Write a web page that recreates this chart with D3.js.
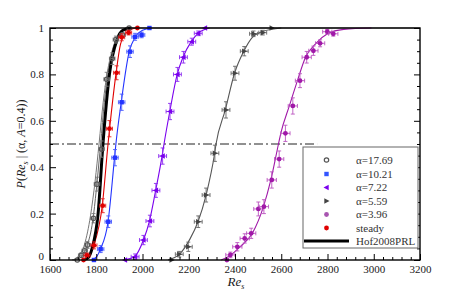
<!DOCTYPE html>
<html lang="en">
<head>
<meta charset="utf-8">
<script src="https://d3js.org/d3.v7.min.js"></script>
<style>
  body { margin: 0; background: #fff; }
  svg text { font-family: "Liberation Serif", "Times New Roman", serif; fill: #1a1a1a; }
</style>
</head>
<body>
<div id="chart"></div>
<script>
// ---- data: [Re_s, P] ----
const xTicks = [1600, 1800, 2000, 2200, 2400, 2600, 2800, 3000, 3200];
const yTicks = [0, 0.2, 0.4, 0.6, 0.8, 1];

// measured points
const a1769Pts = [[1718,0],[1735,0.02],[1750,0.04],[1762,0.065],[1788,0.18],[1803,0.327],[1823,0.478],[1845,0.779],[1869,0.868],[1885,0.95],[1914,0.97],[1942,1]];
const a1769Err = [0,0.01,0.012,0.015,0.02,0.03,0.035,0.03,0.025,0.015,0.01,0];
const a1021Pts = [[1790,0],[1819,0.047],[1852,0.165],[1881,0.441],[1910,0.68],[1946,0.898],[1968,0.962],[1996,0.97],[2030,1]];
const a1021Err = [0,0.015,0.025,0.035,0.035,0.025,0.015,0.012,0];
const a722Pts = [[1924,0],[1968,0.014],[2004,0.086],[2032,0.168],[2058,0.30],[2087,0.448],[2119,0.64],[2151,0.80],[2177,0.874],[2213,0.941],[2241,0.977],[2270,1]];
const a722Err = [0,0.012,0.02,0.025,0.03,0.035,0.035,0.03,0.025,0.015,0.01,0];
const a559Pts = [[2126,0],[2159,0.025],[2198,0.057],[2241,0.165],[2275,0.28],[2313,0.46],[2361,0.647],[2400,0.805],[2440,0.90],[2480,0.975],[2520,0.98],[2559,1]];
const a559Err = [0,0.012,0.02,0.025,0.03,0.035,0.035,0.03,0.02,0.012,0.01,0];
const a396Pts = [[2365,0],[2380,0.022],[2410,0.057],[2442,0.093],[2470,0.115],[2501,0.22],[2525,0.23],[2559,0.345],[2591,0.435],[2618,0.546],[2650,0.664],[2681,0.773],[2710,0.874],[2739,0.902],[2768,0.934],[2799,0.984],[2825,0.975]];
const a396Err = [0,0.012,0.018,0.02,0.022,0.03,0.03,0.035,0.035,0.035,0.035,0.03,0.025,0.02,0.015,0.01,0.01];
const steadyPts = [[1745,0],[1760,0.02],[1790,0.063],[1828,0.234],[1857,0.566],[1888,0.807],[1910,0.96],[1940,0.98],[1978,1]];
const steadyErr = [0,0.01,0.015,0.03,0.035,0.03,0.015,0.01,0];

// fitted curves (traced)
const a1769Fit = [[1700,0],[1730,0.01],[1760,0.06],[1785,0.17],[1800,0.3],[1819,0.5],[1835,0.68],[1850,0.8],[1870,0.9],[1890,0.96],[1920,0.99],[1960,1],[3200,1]];
const a1769Fit2 = [[1695,0],[1722,0.015],[1750,0.07],[1775,0.19],[1795,0.34],[1812,0.5],[1830,0.68],[1848,0.81],[1868,0.9],[1890,0.96],[1920,0.99],[1960,1]];
const a1021Fit = [[1780,0],[1800,0.012],[1818,0.047],[1851,0.165],[1879,0.44],[1885,0.5],[1908,0.68],[1943,0.9],[1968,0.96],[2000,0.99],[2040,1]];
const a722Fit = [[1920,0],[1965,0.014],[2004,0.086],[2030,0.168],[2057,0.3],[2085,0.45],[2093,0.5],[2118,0.64],[2150,0.8],[2175,0.874],[2210,0.94],[2240,0.977],[2290,1]];
const a559Fit = [[2110,0],[2160,0.025],[2205,0.09],[2240,0.165],[2275,0.28],[2312,0.46],[2318,0.5],[2358,0.647],[2398,0.805],[2438,0.9],[2475,0.96],[2520,0.985],[2600,1]];
const a396Fit = [[2340,0],[2380,0.02],[2420,0.055],[2475,0.115],[2523,0.23],[2555,0.345],[2588,0.5],[2598,0.546],[2635,0.664],[2670,0.773],[2705,0.874],[2750,0.934],[2800,0.975],[2870,0.994],[2990,1]];
const steadyFit = [[1740,0],[1770,0.02],[1790,0.065],[1826,0.234],[1851,0.5],[1885,0.8],[1905,0.93],[1930,0.98],[1970,1]];
const hofFit = [[1740,0],[1765,0.01],[1782,0.05],[1808,0.2],[1829,0.5],[1857,0.8],[1890,0.95],[1915,0.99],[1950,1]];

const refLine = [[1600,0.5],[2755,0.5]];

const legendLabels = ["\u03b1=17.69", "\u03b1=10.21", "\u03b1=7.22", "\u03b1=5.59", "\u03b1=3.96", "steady", "Hof2008PRL"];

// ---- layout ----
const W = 449, H = 298;
const mLeft = 50, mRight = 420, mTop = 28, mBottom = 260;
const serif = "'Liberation Serif', 'Times New Roman', serif";

const svg = d3.select("#chart").append("svg")
  .attr("width", W).attr("height", H);

const x = d3.scaleLinear().domain([1600, 3200]).range([mLeft, mRight]);
const y = d3.scaleLinear().domain([0, 1]).range([mBottom, mTop]);

const line = d3.line().x(d => x(d[0])).y(d => y(d[1])).curve(d3.curveMonotoneX);

const series = [
  { pts: a1769Pts, err: a1769Err, ex: 12, color: "#555", ebColor: "#777", shape: "ocircle" },
  { pts: a1021Pts, err: a1021Err, ex: 14, color: "#2233ff", ebColor: "#4a5cff", shape: "square" },
  { pts: a722Pts, err: a722Err, ex: 17, color: "#7a00ee", ebColor: "#8c2cf0", shape: "ltri" },
  { pts: a559Pts, err: a559Err, ex: 17, color: "#444", ebColor: "#666", shape: "rtri" },
  { pts: a396Pts, err: a396Err, ex: 20, color: "#a018a8", ebColor: "#bb55c0", shape: "circle" },
  { pts: steadyPts, err: steadyErr, ex: 13, color: "#e00000", ebColor: "#e52020", shape: "circle" }
];

// fits
const fits = [
  { d: a1769Fit, c: "#666", w: 1 },
  { d: a1769Fit2, c: "#777", w: 1 },
  { d: a1021Fit, c: "#2233ff", w: 1.1 },
  { d: a722Fit, c: "#7a00ee", w: 1.1 },
  { d: a559Fit, c: "#555", w: 1.1 },
  { d: a396Fit, c: "#a018a8", w: 1.1 },
  { d: steadyFit, c: "#e00000", w: 1.1 },
  { d: hofFit, c: "#000", w: 3 }
];

const plot = svg.append("g");
plot.append("defs").append("clipPath").attr("id", "clip")
  .append("rect").attr("x", mLeft).attr("y", mTop - 2).attr("width", mRight - mLeft).attr("height", mBottom - mTop + 3);

plot.append("path").datum(refLine)
  .attr("d", d3.line().x(d => x(d[0])).y(d => y(d[1])))
  .attr("stroke", "#222").attr("stroke-width", 1)
  .attr("stroke-dasharray", "9,3,2,3").attr("fill", "none");

const lines = plot.append("g").attr("clip-path", "url(#clip)");
fits.forEach(f => {
  lines.append("path").datum(f.d).attr("d", line)
    .attr("fill", "none").attr("stroke", f.c).attr("stroke-width", f.w);
});

function marker(g, shape, color, cx, cy) {
  if (shape === "ocircle") {
    g.append("circle").attr("cx", cx).attr("cy", cy).attr("r", 2.2)
      .attr("fill", "none").attr("stroke", color).attr("stroke-width", 1.2);
  } else if (shape === "circle") {
    g.append("circle").attr("cx", cx).attr("cy", cy).attr("r", 2.4).attr("fill", color);
  } else if (shape === "square") {
    g.append("rect").attr("x", cx - 2.2).attr("y", cy - 2.2).attr("width", 4.4).attr("height", 4.4).attr("fill", color);
  } else if (shape === "ltri") {
    g.append("path").attr("d", `M${cx - 3},${cy} L${cx + 2.2},${cy - 2.8} L${cx + 2.2},${cy + 2.8} Z`).attr("fill", color);
  } else if (shape === "rtri") {
    g.append("path").attr("d", `M${cx + 3},${cy} L${cx - 2.2},${cy - 2.8} L${cx - 2.2},${cy + 2.8} Z`).attr("fill", color);
  }
}

const marks = plot.append("g");
series.forEach(s => {
  s.pts.forEach((p, i) => {
    const cx = x(p[0]), cy = y(p[1]);
    const e = s.err[i];
    if (e > 0) {
      const g = marks.append("g").attr("stroke", s.ebColor).attr("stroke-width", 0.9).attr("fill", "none");
      const x0 = x(p[0] - s.ex), x1 = x(p[0] + s.ex);
      const y0 = y(p[1] - e), y1 = y(Math.min(1, p[1] + e));
      g.append("line").attr("x1", x0).attr("x2", x1).attr("y1", cy).attr("y2", cy);
      g.append("line").attr("x1", x0).attr("x2", x0).attr("y1", cy - 2).attr("y2", cy + 2);
      g.append("line").attr("x1", x1).attr("x2", x1).attr("y1", cy - 2).attr("y2", cy + 2);
      g.append("line").attr("x1", cx).attr("x2", cx).attr("y1", y0).attr("y2", y1);
      g.append("line").attr("x1", cx - 2).attr("x2", cx + 2).attr("y1", y0).attr("y2", y0);
      g.append("line").attr("x1", cx - 2).attr("x2", cx + 2).attr("y1", y1).attr("y2", y1);
    }
    marker(marks, s.shape, s.color, cx, cy);
  });
});

// ---- axes ----
const xMinor = d3.range(1600, 3201, 40).filter(v => v % 200 !== 0);
const yMinor = d3.range(0, 1.001, 0.05).filter(v => Math.abs(v * 5 - Math.round(v * 5)) > 1e-6);

function styleAxis(g) {
  g.attr("font-family", serif);
  g.select(".domain").remove();
  g.selectAll(".tick line").attr("stroke", "#000").attr("stroke-width", 1);
  g.selectAll(".tick text").attr("font-size", 11).attr("fill", "#1a1a1a");
}

svg.append("g").attr("transform", `translate(0,${mBottom})`)
  .call(d3.axisBottom(x).tickValues(xTicks).tickSize(-6).tickPadding(5).tickFormat(d3.format("d")))
  .call(styleAxis);
svg.append("g").attr("transform", `translate(0,${mBottom})`)
  .call(d3.axisBottom(x).tickValues(xMinor).tickSize(-3).tickFormat(""))
  .call(styleAxis);

const yAxisG = svg.append("g").attr("transform", `translate(${mLeft},0)`)
  .call(d3.axisLeft(y).tickValues(yTicks).tickSize(-6).tickPadding(6).tickFormat(d => d === 0 || d === 1 ? d : d.toFixed(1)))
  .call(styleAxis);
// nudge the "0" label up so it clears "1600"
yAxisG.selectAll(".tick text").filter(d => d === 0).attr("dy", "-0.08em");
svg.append("g").attr("transform", `translate(${mLeft},0)`)
  .call(d3.axisLeft(y).tickValues(yMinor).tickSize(-3).tickFormat(""))
  .call(styleAxis);

svg.append("g").attr("transform", `translate(${mRight},0)`)
  .call(d3.axisRight(y).tickValues(yTicks).tickSize(-6).tickFormat(""))
  .call(styleAxis);
svg.append("g").attr("transform", `translate(${mRight},0)`)
  .call(d3.axisRight(y).tickValues(yMinor).tickSize(-3).tickFormat(""))
  .call(styleAxis);

svg.append("rect").attr("x", mLeft).attr("y", mTop).attr("width", mRight - mLeft).attr("height", mBottom - mTop)
  .attr("fill", "none").attr("stroke", "#000").attr("stroke-width", 1.4);

// axis titles
const xl = svg.append("text").attr("x", 236).attr("y", 286).attr("text-anchor", "middle")
  .attr("font-size", 13).attr("font-family", serif);
xl.append("tspan").attr("font-style", "italic").text("Re");
xl.append("tspan").attr("font-style", "italic").attr("font-size", 8).attr("dy", 3).text("s");

const yl = svg.append("text").attr("transform", "translate(25,144) rotate(-90)")
  .attr("text-anchor", "middle").attr("font-size", 12).attr("font-family", serif);
yl.append("tspan").attr("font-style", "italic").text("P");
yl.append("tspan").text("(");
yl.append("tspan").attr("font-style", "italic").text("Re");
yl.append("tspan").attr("font-style", "italic").attr("font-size", 8).attr("dy", 3).text("s");
yl.append("tspan").attr("dy", -3).text(" | (\u03b1, ");
yl.append("tspan").attr("font-style", "italic").text("A");
yl.append("tspan").text("=0.4))");

// ---- legend ----
const lg = svg.append("g");
lg.append("rect").attr("x", 303).attr("y", 147).attr("width", 115).attr("height", 101)
  .attr("fill", "#fff").attr("stroke", "#666").attr("stroke-width", 1);
const rowY = [160, 174, 187.5, 201, 214.5, 228, 241];
const legColors = ["#555", "#3355ff", "#7a00ee", "#444", "#a855b0", "#e00000"];
const legShapes = ["ocircle", "square", "ltri", "rtri", "circle", "circle"];
legendLabels.forEach((t, i) => {
  if (i < 6) {
    marker(lg, legShapes[i], legColors[i], 326.5, rowY[i]);
  } else {
    lg.append("line").attr("x1", 304).attr("x2", 349).attr("y1", rowY[i]).attr("y2", rowY[i])
      .attr("stroke", "#000").attr("stroke-width", 3);
  }
  lg.append("text").attr("x", 356).attr("y", rowY[i] + 3.8).attr("font-size", 11)
    .attr("font-family", serif).style("fill", "#333").text(t);
});
</script>
</body>
</html>
